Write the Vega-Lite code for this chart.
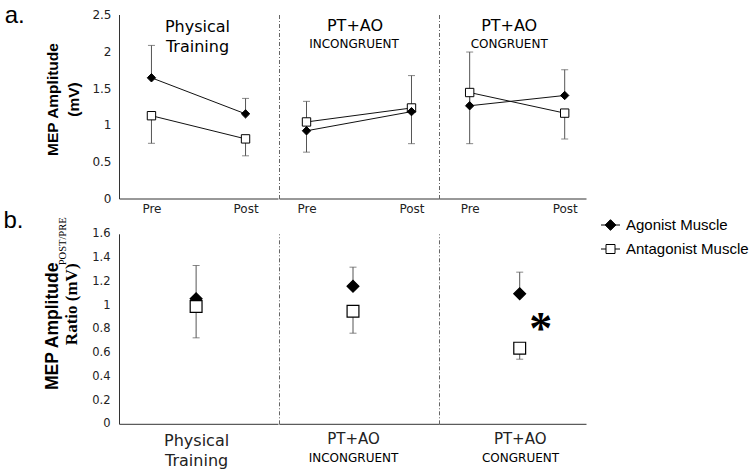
{
  "$schema": "https://vega.github.io/schema/vega-lite/v6.json",
  "background": "white",
  "padding": {"left": 3, "top": 3.5, "right": 5, "bottom": 0},
  "datasets": {
    "prepost": [
      {"group": "Physical Training", "phase": "Pre", "muscle": "Antagonist Muscle", "value": 1.125, "err": 0.75},
      {"group": "Physical Training", "phase": "Post", "muscle": "Antagonist Muscle", "value": 0.81, "err": 0.58},
      {"group": "Physical Training", "phase": "Pre", "muscle": "Agonist Muscle", "value": 1.64, "err": 2.08},
      {"group": "Physical Training", "phase": "Post", "muscle": "Agonist Muscle", "value": 1.15, "err": 1.36},
      {"group": "PT+AO INCONGRUENT", "phase": "Pre", "muscle": "Antagonist Muscle", "value": 1.04, "err": 0.63},
      {"group": "PT+AO INCONGRUENT", "phase": "Post", "muscle": "Antagonist Muscle", "value": 1.23, "err": 0.745},
      {"group": "PT+AO INCONGRUENT", "phase": "Pre", "muscle": "Agonist Muscle", "value": 0.92, "err": 1.32},
      {"group": "PT+AO INCONGRUENT", "phase": "Post", "muscle": "Agonist Muscle", "value": 1.18, "err": 1.67},
      {"group": "PT+AO CONGRUENT", "phase": "Pre", "muscle": "Antagonist Muscle", "value": 1.44, "err": 0.745},
      {"group": "PT+AO CONGRUENT", "phase": "Post", "muscle": "Antagonist Muscle", "value": 1.16, "err": 0.81},
      {"group": "PT+AO CONGRUENT", "phase": "Pre", "muscle": "Agonist Muscle", "value": 1.26, "err": 1.99},
      {"group": "PT+AO CONGRUENT", "phase": "Post", "muscle": "Agonist Muscle", "value": 1.40, "err": 1.75}
    ],
    "ratio": [
      {"group": "Physical Training", "muscle": "Agonist Muscle", "value": 1.053, "err": 1.333},
      {"group": "Physical Training", "muscle": "Antagonist Muscle", "value": 0.988, "err": 0.724},
      {"group": "PT+AO INCONGRUENT", "muscle": "Agonist Muscle", "value": 1.159, "err": 1.319},
      {"group": "PT+AO INCONGRUENT", "muscle": "Antagonist Muscle", "value": 0.948, "err": 0.763},
      {"group": "PT+AO CONGRUENT", "muscle": "Agonist Muscle", "value": 1.095, "err": 1.277},
      {"group": "PT+AO CONGRUENT", "muscle": "Antagonist Muscle", "value": 0.637, "err": 0.544}
    ]
  },
  "columns": 3,
  "spacing": {"row": 29.3, "column": 0},
  "bounds": "flush",
  "align": "all",
  "concat": [
    {
      "width": 159, "height": 184,
      "title": {"text": "a.", "anchor": "start", "frame": "group", "font": "Liberation Sans", "fontSize": 24, "fontWeight": "normal", "color": "black", "dx": -114.3, "offset": -38.2, "baseline": "alphabetic"},
      "data": {"name": "prepost"},
      "transform": [{"filter": "datum.group === 'Physical Training'"}],
      "encoding": {
        "x": {"field": "phase", "type": "nominal", "scale": {"type": "point", "domain": ["Pre", "Physical Training", "Post"], "padding": 0.69, "align": 0.5},
          "axis": {"title": null, "labelAngle": 0, "labelFontSize": 12, "labelPadding": 5, "labelExpr": "datum.value === 'Pre' || datum.value === 'Post' ? datum.value : ''"}}
      },
      "layer": [
        {"mark": {"type": "rule", "color": "#555"}, "encoding": {
          "y": {"field": "value", "type": "quantitative", "scale": {"domain": [0, 2.5], "nice": false},
            "axis": {"values": [0, 0.5, 1, 1.5, 2, 2.5], "tickCount": 6, "format": "~g", "labelFontSize": 12, "labelPadding": 8, "labelOverlap": false, "labelBound": false,
              "title": ["MEP Amplitude", "(mV)"], "titleFont": "Liberation Sans", "titleFontSize": 15.5, "titleFontWeight": "bold", "titleLineHeight": 20.5,
              "titleX": -66.5, "titleY": 84.5, "titleBaseline": "middle", "titleAlign": "center", "titleAngle": -90}},
          "y2": {"field": "err"}}},
        {"mark": {"type": "tick", "color": "#555", "size": 7, "thickness": 1}, "encoding": {"y": {"field": "err", "type": "quantitative",
            "axis": {"values": [0, 0.5, 1, 1.5, 2, 2.5], "tickCount": 6, "format": "~g", "labelFontSize": 12, "labelPadding": 8, "labelOverlap": false, "labelBound": false,
              "title": ["MEP Amplitude", "(mV)"], "titleFont": "Liberation Sans", "titleFontSize": 15.5, "titleFontWeight": "bold", "titleLineHeight": 20.5,
              "titleX": -66.5, "titleY": 84.5, "titleBaseline": "middle", "titleAlign": "center", "titleAngle": -90}}}},
        {"mark": {"type": "line", "color": "#111", "strokeWidth": 1}, "encoding": {"y": {"field": "value", "type": "quantitative",
            "axis": {"values": [0, 0.5, 1, 1.5, 2, 2.5], "tickCount": 6, "format": "~g", "labelFontSize": 12, "labelPadding": 8, "labelOverlap": false, "labelBound": false,
              "title": ["MEP Amplitude", "(mV)"], "titleFont": "Liberation Sans", "titleFontSize": 15.5, "titleFontWeight": "bold", "titleLineHeight": 20.5,
              "titleX": -66.5, "titleY": 84.5, "titleBaseline": "middle", "titleAlign": "center", "titleAngle": -90}}, "detail": {"field": "muscle"}}},
        {"mark": {"type": "point", "filled": true, "opacity": 1, "stroke": "black", "strokeWidth": 1, "size": 70}, "encoding": {
          "y": {"field": "value", "type": "quantitative",
            "axis": {"values": [0, 0.5, 1, 1.5, 2, 2.5], "tickCount": 6, "format": "~g", "labelFontSize": 12, "labelPadding": 8, "labelOverlap": false, "labelBound": false,
              "title": ["MEP Amplitude", "(mV)"], "titleFont": "Liberation Sans", "titleFontSize": 15.5, "titleFontWeight": "bold", "titleLineHeight": 20.5,
              "titleX": -66.5, "titleY": 84.5, "titleBaseline": "middle", "titleAlign": "center", "titleAngle": -90}},
          "shape": {"condition": {"test": "datum.muscle === 'Agonist Muscle'", "value": "diamond"}, "value": "square"},
          "fill": {"condition": {"test": "datum.muscle === 'Agonist Muscle'", "value": "black"}, "value": "white"}}},
        {"data": {"values": [{"phase": "Physical Training"}]}, "mark": {"type": "text", "font": "DejaVu Sans", "fontSize": 16, "baseline": "alphabetic", "lineHeight": 19.4, "color": "black", "dx": -1},
          "encoding": {"x": {"field": "phase", "type": "nominal"}, "y": {"datum": 2.258, "type": "quantitative",
            "axis": {"values": [0, 0.5, 1, 1.5, 2, 2.5], "tickCount": 6, "format": "~g", "labelFontSize": 12, "labelPadding": 8, "labelOverlap": false, "labelBound": false,
              "title": ["MEP Amplitude", "(mV)"], "titleFont": "Liberation Sans", "titleFontSize": 15.5, "titleFontWeight": "bold", "titleLineHeight": 20.5,
              "titleX": -66.5, "titleY": 84.5, "titleBaseline": "middle", "titleAlign": "center", "titleAngle": -90}}, "text": {"value": ["Physical", "Training"]}}},
        {"data": {"values": []}, "mark": {"type": "point", "filled": true, "opacity": 1, "stroke": "black", "strokeWidth": 1},
          "encoding": {
            "shape": {"field": "muscle", "type": "nominal", "scale": {"domain": ["Agonist Muscle", "Antagonist Muscle"], "range": ["M-1.9,0H1.9M-1.07,0L0,-1.07L1.07,0L0,1.07Z", "M-1.9,0H-0.9M0.9,0H1.9M-0.9,-0.9H0.9V0.9H-0.9Z"]},
              "legend": {"title": null, "orient": "none", "legendX": 484, "legendY": 203, "labelFont": "Liberation Sans", "labelFontSize": 15, "labelColor": "black", "symbolSize": 100, "symbolStrokeWidth": 1, "labelOffset": 8, "rowPadding": 8}},
            "fill": {"field": "muscle", "type": "nominal", "scale": {"domain": ["Agonist Muscle", "Antagonist Muscle"], "range": ["black", "white"]},
              "legend": {"title": null, "orient": "none", "legendX": 484, "legendY": 203, "labelFont": "Liberation Sans", "labelFontSize": 15, "labelColor": "black", "symbolSize": 100, "symbolStrokeWidth": 1, "labelOffset": 8, "rowPadding": 8}}}}
      ]
    },
    {
      "width": 160, "height": 184,
      "data": {"name": "prepost"},
      "transform": [{"filter": "datum.group === 'PT+AO INCONGRUENT'"}],
      "encoding": {
        "x": {"field": "phase", "type": "nominal", "scale": {"type": "point", "domain": ["Pre", "PT+AO INCONGRUENT", "Post"], "padding": 0.524, "align": 0.5},
          "axis": {"title": null, "labelAngle": 0, "labelFontSize": 12, "labelPadding": 5, "labelExpr": "datum.value === 'Pre' || datum.value === 'Post' ? datum.value : ''"}}
      },
      "layer": [
        {"mark": {"type": "rule", "color": "#555"}, "encoding": {
          "y": {"field": "value", "type": "quantitative", "scale": {"domain": [0, 2.5], "nice": false},
            "axis": {"labels": false, "title": null, "domainDash": [4, 2, 1, 2], "domainColor": "#666"}},
          "y2": {"field": "err"}}},
        {"mark": {"type": "tick", "color": "#555", "size": 7, "thickness": 1}, "encoding": {"y": {"field": "err", "type": "quantitative"}}},
        {"mark": {"type": "line", "color": "#111", "strokeWidth": 1}, "encoding": {"y": {"field": "value", "type": "quantitative"}, "detail": {"field": "muscle"}}},
        {"mark": {"type": "point", "filled": true, "opacity": 1, "stroke": "black", "strokeWidth": 1, "size": 70}, "encoding": {
          "y": {"field": "value", "type": "quantitative"},
          "shape": {"condition": {"test": "datum.muscle === 'Agonist Muscle'", "value": "diamond"}, "value": "square"},
          "fill": {"condition": {"test": "datum.muscle === 'Agonist Muscle'", "value": "black"}, "value": "white"}}},
        {"data": {"values": [{"phase": "PT+AO INCONGRUENT"}]}, "mark": {"type": "text", "font": "DejaVu Sans", "fontSize": 16, "baseline": "alphabetic", "color": "black", "dx": -4},
          "encoding": {"x": {"field": "phase", "type": "nominal"}, "y": {"datum": 2.28, "type": "quantitative"}, "text": {"value": "PT+AO"}}},
        {"data": {"values": [{"phase": "PT+AO INCONGRUENT"}]}, "mark": {"type": "text", "font": "DejaVu Sans", "fontSize": 12, "baseline": "alphabetic", "color": "black", "dx": -5},
          "encoding": {"x": {"field": "phase", "type": "nominal"}, "y": {"datum": 2.04, "type": "quantitative"}, "text": {"value": "INCONGRUENT"}}}
      ]
    },
    {
      "width": 147, "height": 184,
      "data": {"name": "prepost"},
      "transform": [{"filter": "datum.group === 'PT+AO CONGRUENT'"}],
      "encoding": {
        "x": {"field": "phase", "type": "nominal", "scale": {"type": "point", "domain": ["Pre", "PT+AO CONGRUENT", "Post"], "padding": 0.547, "align": 0.59},
          "axis": {"title": null, "labelAngle": 0, "labelFontSize": 12, "labelPadding": 5, "labelExpr": "datum.value === 'Pre' || datum.value === 'Post' ? datum.value : ''"}}
      },
      "layer": [
        {"mark": {"type": "rule", "color": "#555"}, "encoding": {
          "y": {"field": "value", "type": "quantitative", "scale": {"domain": [0, 2.5], "nice": false},
            "axis": {"labels": false, "title": null, "domainDash": [4, 2, 1, 2], "domainColor": "#666"}},
          "y2": {"field": "err"}}},
        {"mark": {"type": "tick", "color": "#555", "size": 7, "thickness": 1}, "encoding": {"y": {"field": "err", "type": "quantitative"}}},
        {"mark": {"type": "line", "color": "#111", "strokeWidth": 1}, "encoding": {"y": {"field": "value", "type": "quantitative"}, "detail": {"field": "muscle"}}},
        {"mark": {"type": "point", "filled": true, "opacity": 1, "stroke": "black", "strokeWidth": 1, "size": 70}, "encoding": {
          "y": {"field": "value", "type": "quantitative"},
          "shape": {"condition": {"test": "datum.muscle === 'Agonist Muscle'", "value": "diamond"}, "value": "square"},
          "fill": {"condition": {"test": "datum.muscle === 'Agonist Muscle'", "value": "black"}, "value": "white"}}},
        {"data": {"values": [{"phase": "PT+AO CONGRUENT"}]}, "mark": {"type": "text", "font": "DejaVu Sans", "fontSize": 16, "baseline": "alphabetic", "color": "black", "dx": -8},
          "encoding": {"x": {"field": "phase", "type": "nominal"}, "y": {"datum": 2.28, "type": "quantitative"}, "text": {"value": "PT+AO"}}},
        {"data": {"values": [{"phase": "PT+AO CONGRUENT"}]}, "mark": {"type": "text", "font": "DejaVu Sans", "fontSize": 12, "baseline": "alphabetic", "color": "black", "dx": -8},
          "encoding": {"x": {"field": "phase", "type": "nominal"}, "y": {"datum": 2.04, "type": "quantitative"}, "text": {"value": "CONGRUENT"}}}
      ]
    },
    {
      "width": 159, "height": 190,
      "title": {"text": "b.", "anchor": "start", "frame": "group", "font": "Liberation Sans", "fontSize": 24, "fontWeight": "normal", "color": "black", "dx": -115.5, "offset": -34.8, "baseline": "alphabetic"},
      "data": {"name": "ratio"},
      "transform": [{"filter": "datum.group === 'Physical Training'"}],
      "encoding": {
        "x": {"field": "group", "type": "nominal", "scale": {"type": "point", "domain": ["Physical Training"], "align": 0.485},
          "axis": {"title": null, "labelAngle": 0, "labelExpr": "['Physical', 'Training']", "labelFontSize": 16, "labelLineHeight": 19.5, "labelPadding": 9}}
      },
      "layer": [
        {"mark": {"type": "rule", "color": "#555"}, "encoding": {
          "y": {"field": "value", "type": "quantitative", "scale": {"domain": [0, 1.6], "nice": false},
            "axis": {"orient": "left", "domain": false, "labels": false, "title": "Ratio (mV)", "titleFont": "Liberation Serif", "titleFontSize": 17, "titleFontWeight": "bold",
              "titleX": -48, "titleY": 70, "titleBaseline": "middle", "titleAlign": "center", "titleAngle": -90}},
          "y2": {"field": "err"}}},
        {"mark": {"type": "tick", "color": "#555", "size": 7, "thickness": 1}, "encoding": {"y": {"field": "err", "type": "quantitative", "scale": {"domain": [0, 1.6], "nice": false},
            "axis": {"orient": "left", "domain": false, "labels": false, "title": "POST/PRE", "titleFont": "Liberation Serif", "titleFontSize": 10.5, "titleFontWeight": "normal",
              "titleX": -57, "titleY": 7, "titleBaseline": "middle", "titleAlign": "center", "titleAngle": -90}}}},
        {"mark": {"type": "point", "filled": true, "opacity": 1, "stroke": "black", "strokeWidth": 1.2, "size": 140}, "encoding": {
          "y": {"field": "value", "type": "quantitative", "scale": {"domain": [0, 1.6], "nice": false},
            "axis": {"orient": "left", "values": [0, 0.2, 0.4, 0.6, 0.8, 1, 1.2, 1.4, 1.6], "format": "~g", "labelFontSize": 11.5, "labelPadding": 9, "labelOverlap": false, "labelBound": false,
              "title": "MEP Amplitude", "titleFont": "Liberation Sans", "titleFontSize": 17.5, "titleFontWeight": "bold",
              "titleX": -67, "titleY": 92, "titleBaseline": "middle", "titleAlign": "center", "titleAngle": -90}},
          "shape": {"condition": {"test": "datum.muscle === 'Agonist Muscle'", "value": "diamond"}, "value": "square"},
          "fill": {"condition": {"test": "datum.muscle === 'Agonist Muscle'", "value": "black"}, "value": "white"}}}
      ],
      "resolve": {"scale": {"y": "independent"}}
    },
    {
      "width": 160, "height": 190,
      "data": {"name": "ratio"},
      "transform": [{"filter": "datum.group === 'PT+AO INCONGRUENT'"}],
      "encoding": {
        "x": {"field": "group", "type": "nominal", "scale": {"type": "point", "domain": ["PT+AO INCONGRUENT"], "align": 0.4625},
          "axis": {"title": "INCONGRUENT", "titleFont": "DejaVu Sans", "titleFontSize": 12, "titleFontWeight": "normal", "titleBaseline": "alphabetic", "titleY": 37.5, "titleX": 74,
            "labelAngle": 0, "labelExpr": "'PT+AO'", "labelFontSize": 15, "labelPadding": 8}}
      },
      "layer": [
        {"mark": {"type": "rule", "color": "#555"}, "encoding": {
          "y": {"field": "value", "type": "quantitative", "scale": {"domain": [0, 1.6], "nice": false},
            "axis": {"labels": false, "title": null, "domainDash": [4, 2, 1, 2], "domainColor": "#666"}},
          "y2": {"field": "err"}}},
        {"mark": {"type": "tick", "color": "#555", "size": 7, "thickness": 1}, "encoding": {"y": {"field": "err", "type": "quantitative"}}},
        {"mark": {"type": "point", "filled": true, "opacity": 1, "stroke": "black", "strokeWidth": 1.2, "size": 140}, "encoding": {
          "y": {"field": "value", "type": "quantitative"},
          "shape": {"condition": {"test": "datum.muscle === 'Agonist Muscle'", "value": "diamond"}, "value": "square"},
          "fill": {"condition": {"test": "datum.muscle === 'Agonist Muscle'", "value": "black"}, "value": "white"}}}
      ]
    },
    {
      "width": 147, "height": 190,
      "data": {"name": "ratio"},
      "transform": [{"filter": "datum.group === 'PT+AO CONGRUENT'"}],
      "encoding": {
        "x": {"field": "group", "type": "nominal", "scale": {"type": "point", "domain": ["PT+AO CONGRUENT"], "align": 0.549},
          "axis": {"title": "CONGRUENT", "titleFont": "DejaVu Sans", "titleFontSize": 12, "titleFontWeight": "normal", "titleBaseline": "alphabetic", "titleY": 37.5, "titleX": 81,
            "labelAngle": 0, "labelExpr": "'PT+AO'", "labelFontSize": 15, "labelPadding": 8}}
      },
      "layer": [
        {"mark": {"type": "rule", "color": "#555"}, "encoding": {
          "y": {"field": "value", "type": "quantitative", "scale": {"domain": [0, 1.6], "nice": false},
            "axis": {"labels": false, "title": null, "domainDash": [4, 2, 1, 2], "domainColor": "#666"}},
          "y2": {"field": "err"}}},
        {"mark": {"type": "tick", "color": "#555", "size": 7, "thickness": 1}, "encoding": {"y": {"field": "err", "type": "quantitative"}}},
        {"mark": {"type": "point", "filled": true, "opacity": 1, "stroke": "black", "strokeWidth": 1.2, "size": 140}, "encoding": {
          "y": {"field": "value", "type": "quantitative"},
          "shape": {"condition": {"test": "datum.muscle === 'Agonist Muscle'", "value": "diamond"}, "value": "square"},
          "fill": {"condition": {"test": "datum.muscle === 'Agonist Muscle'", "value": "black"}, "value": "white"}}},
        {"data": {"values": [{"group": "PT+AO CONGRUENT"}]}, "mark": {"type": "text", "font": "Liberation Serif", "fontWeight": "bold", "fontSize": 46, "baseline": "middle", "color": "black", "dx": 21, "dy": 6},
          "encoding": {"x": {"field": "group", "type": "nominal"}, "y": {"datum": 0.84, "type": "quantitative"}, "text": {"value": "*"}}}
      ]
    }
  ],
  "config": {
    "view": {"stroke": null},
    "font": "DejaVu Sans",
    "axis": {"grid": false, "ticks": false, "tickSize": 0, "domainColor": "#333", "domainWidth": 1, "labelColor": "#222", "labelFont": "DejaVu Sans", "titleColor": "black", "labelOverlap": false}
  }
}
